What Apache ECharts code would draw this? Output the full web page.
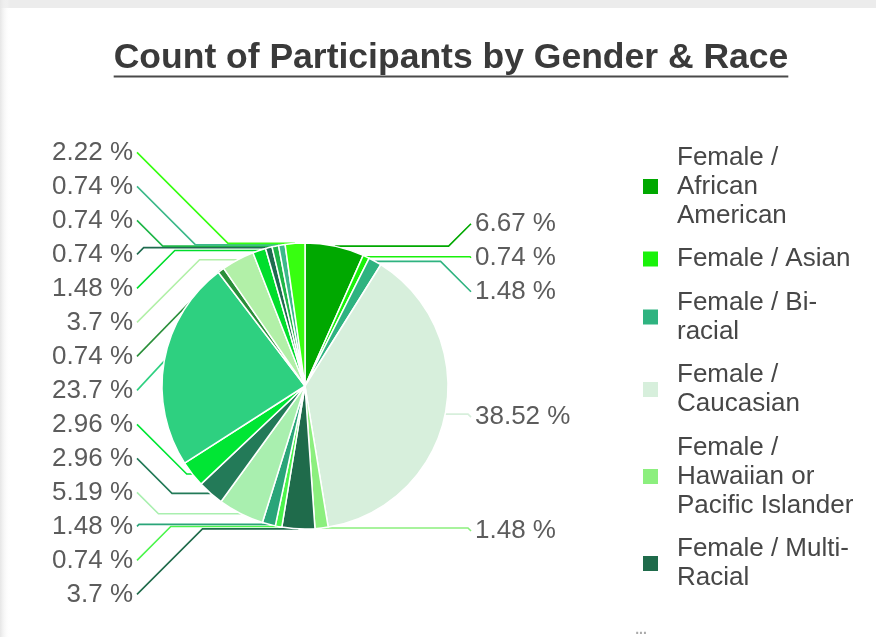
<!DOCTYPE html>
<html>
<head>
<meta charset="utf-8">
<script src="https://cdn.jsdelivr.net/npm/echarts@6/dist/echarts.min.js"></script>
<style>
html,body{margin:0;padding:0;background:#fff;}
#c{width:876px;height:637px;}
</style>
</head>
<body>
<div id="c"></div>
<script>
// ---- data ----
const titleText = 'Count of Participants by Gender & Race';
const categories = [
  'Female / African American',
  'Female / Asian',
  'Female / Bi-racial',
  'Female / Caucasian',
  'Female / Hawaiian or Pacific Islander',
  'Female / Multi-Racial',
  'Female / Native American',
  'Female / Other',
  'Male / African American',
  'Male / Asian',
  'Male / Bi-racial',
  'Male / Caucasian',
  'Male / Hawaiian or Pacific Islander',
  'Male / Multi-Racial',
  'Male / Native American',
  'Male / Other',
  'Unknown / African American',
  'Unknown / Caucasian',
  'Unknown / Other'
];
const counts = [9, 1, 2, 52, 2, 5, 1, 2, 7, 4, 4, 32, 1, 5, 2, 1, 1, 1, 3];
const legendLabels = [
  'Female /\nAfrican\nAmerican',
  'Female / Asian',
  'Female / Bi-\nracial',
  'Female /\nCaucasian',
  'Female /\nHawaiian or\nPacific Islander',
  'Female / Multi-\nRacial'
];
const colors = [
  '#00a800', '#19f20a', '#2fb380', '#d7efdc', '#8cef7e', '#1f6b4b',
  '#4cf54c', '#2aa579', '#a9efaf', '#237a58', '#00e634', '#2ed080',
  '#2a8f3a', '#b2f0a8', '#00de2c', '#1f6b4f', '#1fb648', '#3db98a', '#37ff10'
];

// ---- layout ----
const total = counts.reduce((a, b) => a + b, 0);
const FONT = '"Liberation Sans", Arial, sans-serif';
const PIE_CX = 305, PIE_CY = 386, PIE_R = 143;
const SPACING = 34, MERGE_PAD = 10, LABEL_DY = 3;
const LEFT_TEXT_X = 133, RIGHT_TEXT_X = 475, GAP = 4;

// Label placement: each label wants the height of its slice's mid-angle,
// overlapping (or nearly touching) groups are merged and centred on their mean.
const labelY = new Array(counts.length);
const labelLeft = new Array(counts.length);
(function () {
  let cum = 0;
  const left = [], right = [];
  counts.forEach(function (v, i) {
    const mid = (cum + v / 2) / total * 2 * Math.PI;
    cum += v;
    const y = PIE_CY - PIE_R * Math.cos(mid);
    const isLeft = Math.sin(mid) < 0;
    labelLeft[i] = isLeft;
    (isLeft ? left : right).push({ i: i, y: y });
  });
  [left, right].forEach(function (side) {
    side.sort(function (a, b) { return a.y - b.y; });
    let clusters = side.map(function (s) { return { items: [s], sum: s.y }; });
    let changed = true;
    while (changed) {
      changed = false;
      for (let k = 0; k < clusters.length - 1; k++) {
        const A = clusters[k], B = clusters[k + 1];
        const aB = A.sum / A.items.length + (A.items.length - 1) * SPACING / 2;
        const bT = B.sum / B.items.length - (B.items.length - 1) * SPACING / 2;
        if (bT - aB < SPACING + MERGE_PAD) {
          clusters.splice(k, 2, { items: A.items.concat(B.items), sum: A.sum + B.sum });
          changed = true;
          break;
        }
      }
    }
    clusters.forEach(function (c) {
      const n = c.items.length;
      const start = c.sum / n - (n - 1) * SPACING / 2 + LABEL_DY;
      c.items.forEach(function (it, j) { labelY[it.i] = start + j * SPACING; });
    });
  });
})();

const chart = echarts.init(document.getElementById('c'));
const ctx = document.createElement('canvas').getContext('2d');
ctx.font = 'bold 35.5px "Liberation Sans"';
const titleW = ctx.measureText(titleText).width;
const titleCX = 451;

chart.setOption({
  animation: false,
  color: colors,
  graphic: [
    { type: 'rect', left: 0, top: 0, shape: { width: 876, height: 8 }, style: { fill: '#ececec' }, silent: true },
    { type: 'rect', left: 0, top: 0, shape: { width: 10, height: 637 },
      style: { fill: new echarts.graphic.LinearGradient(0, 0, 1, 0, [{ offset: 0, color: '#e6e6e6' }, { offset: 1, color: 'rgba(255,255,255,0)' }]) }, silent: true },
    { type: 'text', x: titleCX, y: 58.5,
      style: { text: titleText, font: 'bold 35.5px ' + FONT, fill: '#3a3a3a', align: 'center', verticalAlign: 'middle' } },
    { type: 'rect', shape: { x: titleCX - titleW / 2, y: 75.5, width: titleW, height: 2 }, style: { fill: '#4a4a4a' } },
    { type: 'text', x: 641, y: 630,
      style: { text: '...', font: 'bold 14px ' + FONT, fill: '#aaaaaa', align: 'center', verticalAlign: 'middle' } }
  ],
  legend: {
    orient: 'vertical',
    left: 641,
    top: 143,
    padding: 0,
    data: categories.slice(0, legendLabels.length),
    icon: 'rect',
    itemWidth: 17,
    itemHeight: 17,
    itemGap: 14.5,
    formatter: function (name) { return legendLabels[categories.indexOf(name)]; },
    textStyle: { fontSize: 26, lineHeight: 29, color: '#474747', fontFamily: FONT, padding: [0, 0, 0, 13] }
  },
  series: [{
    type: 'pie',
    center: [PIE_CX, PIE_CY],
    radius: PIE_R,
    startAngle: 90,
    clockwise: true,
    avoidLabelOverlap: true,
    minShowLabelAngle: 0,
    itemStyle: { borderColor: '#ffffff', borderWidth: 1.5 },
    label: {
      show: true,
      position: 'outside',
      fontSize: 26,
      lineHeight: 30,
      color: '#5c5c5c',
      fontFamily: FONT,
      formatter: function (p) {
        return parseFloat((p.value / total * 100).toFixed(2)) + ' %';
      }
    },
    labelLine: { show: true, length: 2, length2: 2, lineStyle: { width: 1.6 } },
    labelLayout: function (p) {
      const pts = p.labelLinePoints;
      const i = p.dataIndex;
      const ly = labelY[i];
      if (!pts || ly == null) return {};
      const a = pts[0];
      const dy = Math.abs(a[1] - ly);
      if (labelLeft[i]) {
        const endX = LEFT_TEXT_X + GAP;
        const ex = Math.min(endX + dy, a[0]);
        return { x: LEFT_TEXT_X, y: ly, align: 'right', verticalAlign: 'middle',
          labelLinePoints: [[a[0], a[1]], [ex, a[1]], [endX, ly]] };
      } else {
        const endX = RIGHT_TEXT_X - GAP;
        const ex = Math.max(endX - dy, a[0]);
        return { x: RIGHT_TEXT_X, y: ly, align: 'left', verticalAlign: 'middle',
          labelLinePoints: [[a[0], a[1]], [ex, a[1]], [endX, ly]] };
      }
    },
    data: categories.map(function (c, i) { return { name: c, value: counts[i] }; })
  }]
});
</script>
</body>
</html>
